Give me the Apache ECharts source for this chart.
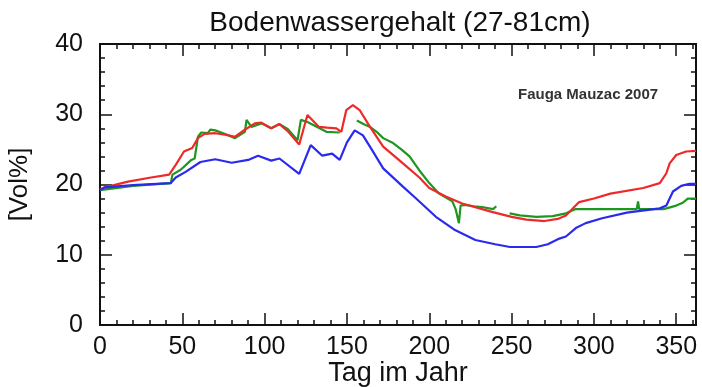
<!DOCTYPE html>
<html>
<head>
<meta charset="utf-8">
<script src="https://cdn.jsdelivr.net/npm/echarts@6/dist/echarts.min.js"></script>
<style>
 html, body { margin: 0; padding: 0; background: #fff; }
 #chart { width: 702px; height: 387px; }
</style>
</head>
<body>
<div id="chart"></div>
<script>
// Bodenwassergehalt (27-81cm), Fauga Mauzac 2007
const majorDays = [0, 50, 100, 150, 200, 250, 300, 350];
const minorDays = [10, 20, 30, 40, 60, 70, 80, 90, 110, 120, 130, 140, 160, 170, 180, 190,
 210, 220, 230, 240, 260, 270, 280, 290, 310, 320, 330, 340, 360];

// blue
const blueDays = [0, 3, 20, 43, 46, 52, 61, 70, 80, 90, 96, 104, 109, 121, 128, 135, 141, 145.6,
 150, 154.7, 159.7, 165, 172, 184, 192, 204, 215, 228, 240, 249, 265, 272, 279, 283, 289, 295,
 305, 320, 340, 344, 348, 353, 358, 362];
const blueVals = [19.2, 19.6, 19.9, 20.2, 21.0, 21.8, 23.2, 23.6, 23.1, 23.5, 24.1, 23.4, 23.7, 21.5,
 25.6, 24.1, 24.4, 23.5, 26.0, 27.7, 27.0, 25.0, 22.3, 19.7, 18.0, 15.4, 13.6, 12.1, 11.5, 11.1,
 11.1, 11.5, 12.3, 12.6, 13.8, 14.5, 15.2, 16.0, 16.6, 17.0, 19.0, 19.8, 20.1, 20.1];

// red
const redDays = [0, 3, 17, 31, 42, 46, 51, 56, 59.5, 63.5, 70, 76, 82, 88, 94, 98, 104, 109, 114,
 121, 126, 133, 138, 143.6, 146.6, 149.6, 153.6, 157.7, 164, 172, 184, 194, 200, 210, 220, 238,
 250, 259, 270, 278, 283, 291, 300, 310, 330, 340, 344, 346, 350, 356, 362];
const redVals = [19.3, 19.6, 20.4, 21.0, 21.4, 22.8, 24.7, 25.2, 26.6, 27.2, 27.3, 27.1, 26.8, 27.8,
 28.7, 28.8, 28.0, 28.6, 27.6, 25.7, 29.9, 28.2, 28.1, 28.0, 27.5, 30.6, 31.3, 30.6, 28.2, 25.4,
 23.0, 21.0, 19.5, 18.3, 17.3, 16.1, 15.4, 15.0, 14.8, 15.1, 15.6, 17.5, 18.0, 18.7, 19.5, 20.2,
 21.6, 23.0, 24.2, 24.7, 24.8];

// green (null = no data)
const greenDays = [0, 20, 43, 44, 49, 55.5, 57.5, 59.5, 61.5, 65.5, 67, 70, 76, 82, 88, 89, 92, 98,
 104, 109, 114, 120, 122, 126, 133.4, 137.5, 145.6, 150, 156, 160, 164, 168, 172, 178, 183, 188,
 194, 200, 206, 214, 216, 218, 219, 221.5, 227, 232, 238.7, 240.7, 245, 248.8, 255, 265, 275, 283,
 289, 326, 326.8, 327.5, 342, 344, 350, 354, 357, 362];
const greenVals = [19.2, 19.8, 20.2, 21.4, 22.1, 23.5, 23.7, 26.8, 27.4, 27.3, 27.8, 27.7, 27.2, 26.6,
 27.5, 29.2, 28.2, 28.7, 28.0, 28.6, 27.9, 26.3, 29.2, 28.9, 28.0, 27.5, 27.4, null, 29.1, 28.6,
 28.2, 27.5, 26.6, 25.9, 25.0, 24.0, 22.0, 20.2, 18.7, 17.6, 16.5, 14.5, 17.0, 17.1, 16.9, 16.8,
 16.5, 16.9, null, 15.9, 15.6, 15.4, 15.5, 15.9, 16.5, 16.5, 17.6, 16.5, 16.5, 16.6, 17.0, 17.4,
 18.0, 18.0];

const toPairs = (days, vals) => days.map((d, i) => [d, vals[i] === null ? '-' : vals[i]]);

const font = '"Liberation Sans", Arial, Helvetica, sans-serif';
const black = '#111';

function xAxisDef(position, values, len, withLabels) {
 return {
 type: 'value',
 position,
 min: 0,
 max: 362,
 splitLine: { show: false },
 axisLine: { show: true, onZero: false, lineStyle: { color: black, width: 2 } },
 axisTick: { show: true, inside: true, length: len, customValues: values, lineStyle: { color: black, width: 1.5 } },
 axisLabel: withLabels
 ? { show: true, customValues: values, margin: 10, fontSize: 25, fontFamily: font, color: black }
 : { show: false },
 };
}

function yAxisDef(position, withLabels) {
 return {
 type: 'value',
 position,
 min: 0,
 max: 40,
 interval: 10,
 splitLine: { show: false },
 axisLine: { show: true, onZero: false, lineStyle: { color: black, width: 2 } },
 axisTick: { show: true, inside: true, length: 12, lineStyle: { color: black, width: 1.5 } },
 minorTick: { show: true, splitNumber: 5, length: 5, lineStyle: { color: black, width: 1.5 } },
 axisLabel: withLabels
 ? { show: true, margin: 17, fontSize: 25, fontFamily: font, color: black }
 : { show: false },
 };
}

const chart = echarts.init(document.getElementById('chart'), null, { renderer: 'canvas' });

const xMain = xAxisDef('bottom', majorDays, 12, true);
xMain.name = 'Tag im Jahr';
xMain.nameLocation = 'middle';
xMain.nameGap = 35;
xMain.nameMoveOverlap = false;
xMain.nameTextStyle = { fontSize: 27, fontFamily: font, color: black };

const yMain = yAxisDef('left', true);
yMain.name = '[Vol%]';
yMain.nameLocation = 'middle';
yMain.nameGap = 67;
yMain.nameMoveOverlap = false;
yMain.nameTextStyle = { fontSize: 26, fontFamily: font, color: black };

const lineSeries = (name, days, vals, color) => ({
 name,
 type: 'line',
 xAxisIndex: 0,
 yAxisIndex: 0,
 data: toPairs(days, vals),
 showSymbol: false,
 connectNulls: false,
 lineStyle: { color, width: 2.2 },
 itemStyle: { color },
});

chart.setOption({
 animation: false,
 backgroundColor: '#fff',
 title: {
 text: 'Bodenwassergehalt (27-81cm)',
 left: 395,
 textAlign: 'center',
 top: 4,
 textStyle: { fontSize: 28, fontWeight: 'normal', fontFamily: font, color: black },
 },
 grid: { left: 100, right: 6, top: 44, bottom: 62, containLabel: false, outerBoundsMode: 'none' },
 xAxis: [
 xMain,
 xAxisDef('bottom', minorDays, 5, false),
 xAxisDef('top', majorDays, 12, false),
 xAxisDef('top', minorDays, 5, false),
 ],
 yAxis: [yMain, yAxisDef('right', false)],
 graphic: [{
 type: 'text',
 left: 518,
 top: 87,
 style: { text: 'Fauga Mauzac 2007', fontSize: 15, fontWeight: 'bold', fontFamily: font, fill: '#333' },
 }],
 series: [
 lineSeries('green', greenDays, greenVals, '#1f961f'),
 lineSeries('red', redDays, redVals, '#ec2a2a'),
 lineSeries('blue', blueDays, blueVals, '#2a2aee'),
 ],
});
</script>
</body>
</html>
